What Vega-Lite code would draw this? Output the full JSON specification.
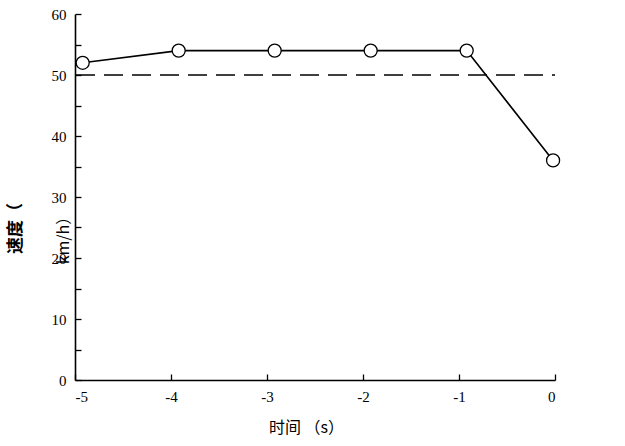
{
  "$schema": "https://vega.github.io/schema/vega-lite/v6.json",
  "width": 480,
  "height": 366,
  "autosize": {"type": "none"},
  "padding": {"left": 75, "top": 14, "right": 70, "bottom": 66},
  "background": "white",
  "config": {"view": {"stroke": null}},
  "datasets": {
    "speed": [
      {"t": -4.92, "v": 52},
      {"t": -3.92, "v": 54},
      {"t": -2.92, "v": 54},
      {"t": -1.92, "v": 54},
      {"t": -0.92, "v": 54},
      {"t": -0.02, "v": 36}
    ],
    "ref": [{"v": 50}]
  },
  "resolve": {"axis": {"y": "independent"}},
  "layer": [
    {
      "data": {"name": "ref"},
      "mark": {"type": "rule", "color": "black", "strokeWidth": 1.3, "strokeDash": [19, 9], "strokeDashOffset": 16},
      "encoding": {
        "y": {
          "field": "v", "type": "quantitative",
          "scale": {"domain": [0, 60], "nice": false},
          "axis": {
            "orient": "right",
            "title": "km/h）",
            "titleFont": "Noto Sans CJK SC",
            "titleFontSize": 16,
            "titleFontWeight": "normal",
            "titleColor": "black",
            "titleAngle": -90,
            "titleAlign": "center",
            "titleBaseline": "middle",
            "titleX": -492,
            "titleY": 222,
            "labels": false,
            "ticks": false,
            "domain": false,
            "grid": false
          }
        }
      }
    },
    {
      "data": {"name": "speed"},
      "mark": {"type": "line", "color": "black", "strokeWidth": 1.6},
      "encoding": {
        "x": {"field": "t", "type": "quantitative"},
        "y": {"field": "v", "type": "quantitative", "axis": null}
      }
    },
    {
      "data": {"name": "speed"},
      "mark": {"type": "point", "shape": "circle", "filled": false, "fill": "white", "fillOpacity": 1, "stroke": "black", "strokeWidth": 1.3, "size": 170, "opacity": 1},
      "encoding": {
        "x": {
          "field": "t", "type": "quantitative",
          "scale": {"domain": [-5, 0], "nice": false, "zero": false},
          "axis": {
            "values": [-5, -4, -3, -2, -1, 0],
            "labelExpr": "toString(datum.value)",
            "title": "时间 （s）",
            "titleFont": "Noto Sans CJK SC",
            "titleFontSize": 16,
            "titleFontWeight": "normal",
            "titleColor": "black",
            "titlePadding": 15,
            "titleX": 231,
            "labelFont": "Liberation Serif",
            "labelFontSize": 15,
            "labelColor": "black",
            "labelPadding": 15,
            "tickSize": -6,
            "tickColor": "black",
            "tickWidth": 1.3,
            "domainColor": "black",
            "domainWidth": 1.6,
            "grid": false
          }
        },
        "y": {
          "field": "v", "type": "quantitative",
          "scale": {"domain": [0, 60], "nice": false},
          "axis": {
            "orient": "left",
            "values": [0, 5, 10, 15, 20, 25, 30, 35, 40, 45, 50, 55, 60],
            "labelExpr": "datum.value % 10 == 0 ? datum.label : ''",
            "title": "速度（",
            "titleFont": "Noto Sans CJK SC",
            "titleFontSize": 17,
            "titleFontWeight": "bold",
            "titleColor": "black",
            "titleAngle": -90,
            "titleAlign": "center",
            "titleBaseline": "middle",
            "titleX": -60,
            "titleY": 214,
            "labelFont": "Liberation Serif",
            "labelFontSize": 15,
            "labelColor": "black",
            "labelPadding": 15,
            "tickSize": -6,
            "tickColor": "black",
            "tickWidth": 1.3,
            "domainColor": "black",
            "domainWidth": 1.6,
            "grid": false
          }
        }
      }
    }
  ]
}
